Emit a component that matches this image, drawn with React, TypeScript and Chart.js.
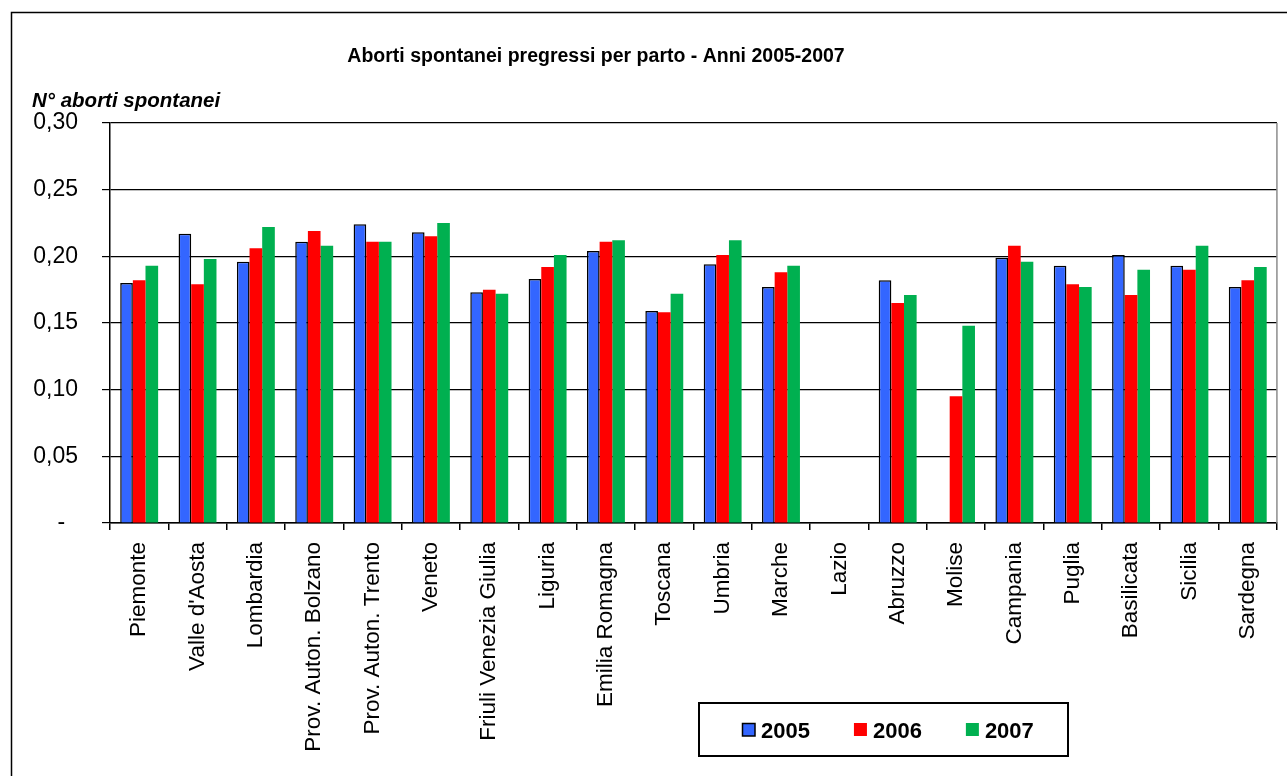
import React, { useEffect, useRef } from 'react';
import { Chart, registerables } from 'chart.js';

Chart.register(...registerables);

const FONT = '"Liberation Sans", Arial, Helvetica, sans-serif';

const chartTitle = 'Aborti spontanei pregressi per parto - Anni 2005-2007';
const yAxisTitle = 'N° aborti spontanei';

const regions = [
  'Piemonte', "Valle d'Aosta", 'Lombardia', 'Prov. Auton. Bolzano', 'Prov. Auton. Trento',
  'Veneto', 'Friuli Venezia Giulia', 'Liguria', 'Emilia Romagna', 'Toscana',
  'Umbria', 'Marche', 'Lazio', 'Abruzzo', 'Molise',
  'Campania', 'Puglia', 'Basilicata', 'Sicilia', 'Sardegna',
];

const seriesLabels = ['2005', '2006', '2007'];
const seriesColors = ['#3366FF', '#FF0000', '#00B050'];

const values2005 = [0.180, 0.217, 0.196, 0.211, 0.224, 0.218, 0.173, 0.183, 0.204, 0.159, 0.194, 0.177, null, 0.182, null, 0.199, 0.193, 0.201, 0.193, 0.177];
const values2006 = [0.182, 0.179, 0.206, 0.219, 0.211, 0.215, 0.175, 0.192, 0.211, 0.158, 0.201, 0.188, null, 0.165, 0.095, 0.208, 0.179, 0.171, 0.190, 0.182];
const values2007 = [0.193, 0.198, 0.222, 0.208, 0.211, 0.225, 0.172, 0.201, 0.212, 0.172, 0.212, 0.193, null, 0.171, 0.148, 0.196, 0.177, 0.190, 0.208, 0.192];

const yTickLabels = ['-  ', '0,05', '0,10', '0,15', '0,20', '0,25', '0,30'];

const decorPlugin = {
  id: 'decor',
  afterDraw(chart: any) {
    const ctx = chart.ctx as CanvasRenderingContext2D;
    const area = chart.chartArea;
    ctx.save();

    // outer frame
    ctx.strokeStyle = '#000';
    ctx.lineWidth = 1.5;
    ctx.strokeRect(11.5, 12.5, 1400, 900);

    // right border of the plot area
    ctx.strokeStyle = '#8c8c8c';
    ctx.lineWidth = 1.5;
    ctx.beginPath();
    ctx.moveTo(area.right, area.top);
    ctx.lineTo(area.right, area.bottom);
    ctx.stroke();

    // title
    ctx.fillStyle = '#000';
    ctx.textAlign = 'center';
    ctx.textBaseline = 'alphabetic';
    ctx.font = `bold 19.5px ${FONT}`;
    ctx.fillText(chartTitle, 596, 62);

    // y axis title
    ctx.textAlign = 'left';
    ctx.font = `italic bold 20.5px ${FONT}`;
    ctx.fillText(yAxisTitle, 32, 107);

    // legend
    const bx = 699, by = 703, bw = 369, bh = 53;
    ctx.lineWidth = 2;
    ctx.strokeStyle = '#000';
    ctx.strokeRect(bx, by, bw, bh);
    ctx.font = `bold 22px ${FONT}`;
    ctx.textBaseline = 'alphabetic';
    const datasets = chart.data.datasets;
    let x = 742;
    const baseY = 738;
    datasets.forEach((ds: any) => {
      ctx.fillStyle = ds.backgroundColor;
      ctx.fillRect(x, 723, 13, 13);
      if (ds.borderWidth) {
        ctx.strokeStyle = '#000';
        ctx.lineWidth = 1.5;
        ctx.strokeRect(x + 0.5, 723.5, 12.5, 12.5);
      }
      ctx.fillStyle = '#000';
      ctx.fillText(ds.label, x + 19, baseY);
      const w = ctx.measureText(ds.label).width;
      x += 19 + w + 44;
    });

    ctx.restore();
  },
};

export default function App() {
  const canvasRef = useRef<HTMLCanvasElement | null>(null);

  useEffect(() => {
    const canvas = canvasRef.current;
    if (!canvas) return;
    const seriesValues = [values2005, values2006, values2007];
    const chart = new Chart(canvas, {
      type: 'bar',
      data: {
        labels: regions,
        datasets: seriesLabels.map((label, i) => ({
          label,
          data: seriesValues[i],
          backgroundColor: seriesColors[i],
          borderColor: '#000000',
          borderWidth: i === 0 ? 1.5 : 0,
          categoryPercentage: 0.65,
          barPercentage: 1.0,
        })),
      },
      options: {
        responsive: false,
        animation: false,
        devicePixelRatio: 1,
        layout: { padding: { left: 0, top: 123, right: 10, bottom: 0 } },
        plugins: {
          legend: { display: false },
          title: { display: false },
          tooltip: { enabled: false },
        },
        scales: {
          x: {
            offset: true,
            grid: {
              display: true,
              offset: true,
              drawOnChartArea: false,
              drawTicks: true,
              tickLength: 7,
              color: '#000',
              lineWidth: 1.5,
            },
            border: { display: true, color: '#000', width: 1.5 },
            ticks: {
              autoSkip: false,
              minRotation: 90,
              maxRotation: 90,
              padding: 12,
              color: '#000',
              font: { family: FONT, size: 22.5 },
            },
            afterFit(scale: any) {
              scale.height = 253;
            },
          },
          y: {
            min: 0,
            max: 0.3,
            ticks: {
              stepSize: 0.05,
              padding: 24,
              color: '#000',
              font: { family: FONT, size: 23 },
              callback: (_v: any, index: number) => yTickLabels[index],
            },
            grid: {
              color: '#000',
              lineWidth: 1.2,
              drawTicks: true,
              tickLength: 8,
            },
            border: { display: true, color: '#000', width: 1.5 },
            afterFit(scale: any) {
              scale.width = 110;
            },
          },
        },
      },
      plugins: [decorPlugin],
    });
    return () => chart.destroy();
  }, []);

  return (
    <div style={{ position: 'fixed', left: 0, top: 0, width: 1287, height: 776, background: '#fff' }}>
      <canvas ref={canvasRef} width={1287} height={776} style={{ display: 'block' }} />
    </div>
  );
}
